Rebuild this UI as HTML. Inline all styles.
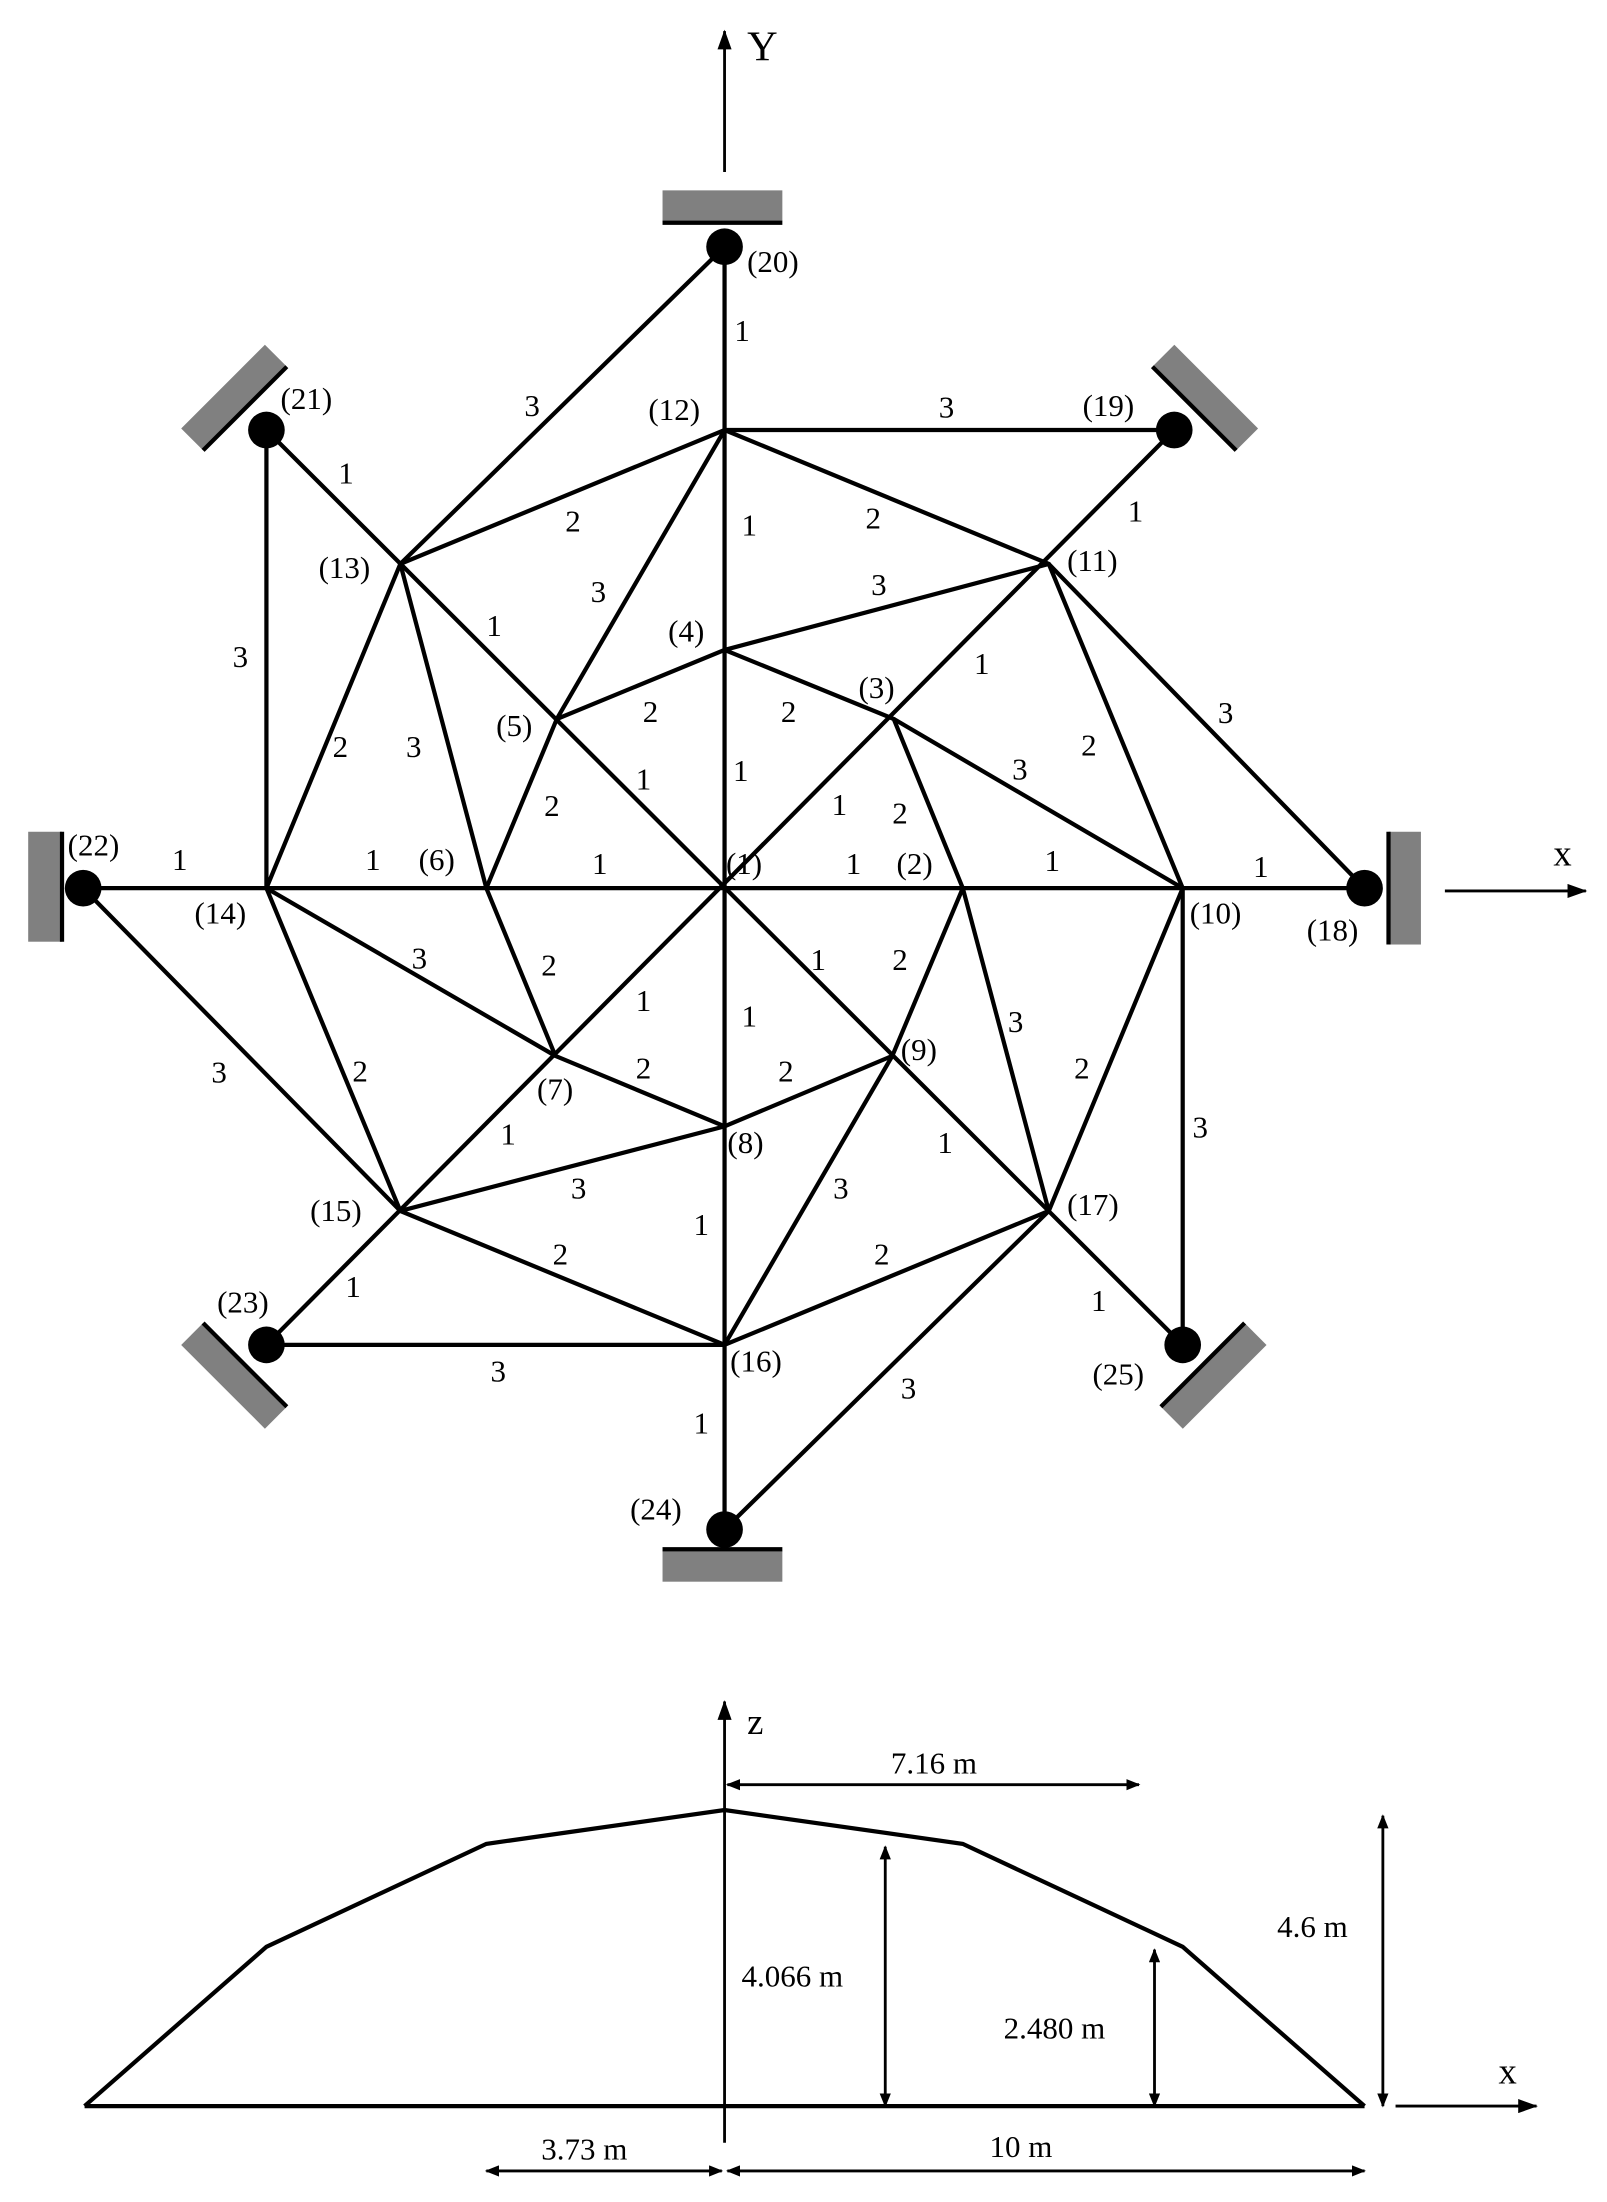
<!DOCTYPE html>
<html><head><meta charset="utf-8"><style>html,body{margin:0;padding:0;background:#fff}svg{display:block}text{font-family:"Liberation Serif",serif;font-size:22px;fill:#000}</style></head><body>
<svg width="1607" height="2202" viewBox="0 0 1140 1562" xmlns="http://www.w3.org/2000/svg">
<defs><marker id="a" markerWidth="10" markerHeight="8" refX="9" refY="4" orient="auto-start-reverse" markerUnits="userSpaceOnUse"><path d="M0,0 L10,4 L0,8 z" fill="#000"/></marker>
<marker id="b" markerWidth="14" markerHeight="10" refX="13" refY="5" orient="auto-start-reverse" markerUnits="userSpaceOnUse"><path d="M0,0 L14,5 L0,10 z" fill="#000"/></marker></defs>
<g stroke="#000" stroke-width="3" fill="none">
<line x1="514" y1="175" x2="514" y2="1085"/>
<line x1="59" y1="630" x2="968" y2="630"/>
<line x1="189" y1="305" x2="839" y2="954"/>
<line x1="833" y1="305" x2="189" y2="954"/>
<polyline points="514,305 833,305"/><polyline points="514,175 284,400"/><polyline points="189,305 189,630"/><polyline points="59,630 284,859"/><polyline points="189,954 514,954"/><polyline points="514,1085 744,859"/><polyline points="839,954 839,630"/><polyline points="968,630 744,400"/>
<polygon points="514,305 744,400 839,630 744,859 514,954 284,859 189,630 284,400"/>
<polyline points="514,305 395,510"/><polyline points="284,400 345,630"/><polyline points="189,630 394,749"/><polyline points="284,859 514,799"/><polyline points="514,954 633,749"/><polyline points="744,859 683,630"/><polyline points="839,630 634,510"/><polyline points="744,400 514,461"/>
<polygon points="514,461 634,510 683,630 633,749 514,799 394,749 345,630 395,510"/>
</g>
<g fill="#808080">
<rect x="470" y="135" width="85" height="22"/><rect x="470" y="1100" width="85" height="22"/>
<rect x="20" y="590" width="24" height="78"/><rect x="985" y="590" width="23" height="80"/>
</g>
<g transform="translate(166,282) rotate(-45)"><rect x="-42" y="-11" width="84" height="22" fill="#808080"/><line x1="-42" y1="11" x2="42" y2="11" stroke="#000" stroke-width="3"/></g>
<g transform="translate(855,282) rotate(45)"><rect x="-42" y="-11" width="84" height="22" fill="#808080"/><line x1="-42" y1="11" x2="42" y2="11" stroke="#000" stroke-width="3"/></g>
<g transform="translate(166,976) rotate(45)"><rect x="-42" y="-11" width="84" height="22" fill="#808080"/><line x1="-42" y1="-11" x2="42" y2="-11" stroke="#000" stroke-width="3"/></g>
<g transform="translate(861,976) rotate(-45)"><rect x="-42" y="-11" width="84" height="22" fill="#808080"/><line x1="-42" y1="-11" x2="42" y2="-11" stroke="#000" stroke-width="3"/></g>
<g stroke="#000" stroke-width="3">
<line x1="470" y1="158" x2="555" y2="158"/><line x1="470" y1="1099" x2="555" y2="1099"/>
<line x1="44" y1="590" x2="44" y2="668"/><line x1="985" y1="590" x2="985" y2="670"/>
</g>
<g fill="#000"><circle cx="514" cy="175" r="13"/><circle cx="514" cy="1085" r="13"/><circle cx="59" cy="630" r="13"/><circle cx="968" cy="630" r="13"/><circle cx="189" cy="305" r="13"/><circle cx="833" cy="305" r="13"/><circle cx="189" cy="954" r="13"/><circle cx="839" cy="954" r="13"/></g>
<g stroke="#000" stroke-width="2" fill="none">
<line x1="514" y1="122" x2="514" y2="22" marker-end="url(#b)"/>
<line x1="1025" y1="632" x2="1125" y2="632" marker-end="url(#b)"/>
<line x1="514" y1="1520" x2="514" y2="1207" marker-end="url(#b)"/>
<line x1="990" y1="1494" x2="1090" y2="1494" marker-end="url(#b)"/>
<line x1="516" y1="1266" x2="808" y2="1266" marker-start="url(#a)" marker-end="url(#a)"/>
<line x1="981" y1="1288" x2="981" y2="1494" marker-start="url(#a)" marker-end="url(#a)"/>
<line x1="628" y1="1310" x2="628" y2="1494" marker-start="url(#a)" marker-end="url(#a)"/>
<line x1="819" y1="1383" x2="819" y2="1494" marker-start="url(#a)" marker-end="url(#a)"/>
<line x1="345" y1="1540" x2="512" y2="1540" marker-start="url(#a)" marker-end="url(#a)"/>
<line x1="516" y1="1540" x2="968" y2="1540" marker-start="url(#a)" marker-end="url(#a)"/>
</g>
<g stroke="#000" stroke-width="3" fill="none"><line x1="60" y1="1494" x2="968" y2="1494"/><polyline points="60,1494 189,1381 345,1308 514,1284 683,1308 839,1381 968,1494"/></g>
<text x="530" y="43" style="font-size:30px">Y</text><text x="1102" y="614" style="font-size:26px">x</text>
<text x="530" y="1230" style="font-size:26px">z</text><text x="1063" y="1478" style="font-size:26px">x</text>
<text x="632" y="1258">7.16 m</text><text x="906" y="1374">4.6 m</text><text x="526" y="1409">4.066 m</text><text x="712" y="1446">2.480 m</text><text x="384" y="1532">3.73 m</text><text x="702" y="1530">10 m</text>
<text x="530" y="193">(20)</text><text x="199" y="290">(21)</text><text x="768" y="295">(19)</text><text x="460" y="298">(12)</text><text x="226" y="410">(13)</text><text x="757" y="405">(11)</text><text x="474" y="455">(4)</text><text x="609" y="495">(3)</text><text x="352" y="522">(5)</text><text x="48" y="607">(22)</text><text x="297" y="617">(6)</text><text x="515" y="620">(1)</text><text x="636" y="620">(2)</text><text x="138" y="655">(14)</text><text x="844" y="655">(10)</text><text x="927" y="667">(18)</text><text x="381" y="780">(7)</text><text x="639" y="752">(9)</text><text x="516" y="818">(8)</text><text x="220" y="866">(15)</text><text x="757" y="862">(17)</text><text x="154" y="931">(23)</text><text x="518" y="973">(16)</text><text x="775" y="982">(25)</text><text x="447" y="1078">(24)</text>
<text x="521" y="242">1</text><text x="372" y="295">3</text><text x="666" y="296">3</text><text x="240" y="343">1</text><text x="800" y="370">1</text><text x="401" y="377">2</text><text x="526" y="380">1</text><text x="614" y="375">2</text><text x="419" y="427">3</text><text x="618" y="422">3</text><text x="345" y="451">1</text><text x="165" y="473">3</text><text x="691" y="478">1</text><text x="456" y="512">2</text><text x="554" y="512">2</text><text x="864" y="513">3</text><text x="236" y="537">2</text><text x="288" y="537">3</text><text x="718" y="553">3</text><text x="767" y="536">2</text><text x="520" y="554">1</text><text x="451" y="560">1</text><text x="386" y="579">2</text><text x="590" y="578">1</text><text x="633" y="584">2</text><text x="122" y="617">1</text><text x="259" y="617">1</text><text x="420" y="620">1</text><text x="600" y="620">1</text><text x="741" y="618">1</text><text x="889" y="622">1</text><text x="292" y="687">3</text><text x="384" y="692">2</text><text x="575" y="688">1</text><text x="633" y="688">2</text><text x="451" y="717">1</text><text x="526" y="728">1</text><text x="715" y="732">3</text><text x="150" y="768">3</text><text x="250" y="767">2</text><text x="451" y="765">2</text><text x="552" y="767">2</text><text x="762" y="765">2</text><text x="355" y="812">1</text><text x="846" y="807">3</text><text x="665" y="818">1</text><text x="405" y="850">3</text><text x="591" y="850">3</text><text x="492" y="876">1</text><text x="392" y="897">2</text><text x="620" y="897">2</text><text x="245" y="920">1</text><text x="774" y="930">1</text><text x="348" y="980">3</text><text x="639" y="992">3</text><text x="492" y="1017">1</text>
</svg>
</body></html>
